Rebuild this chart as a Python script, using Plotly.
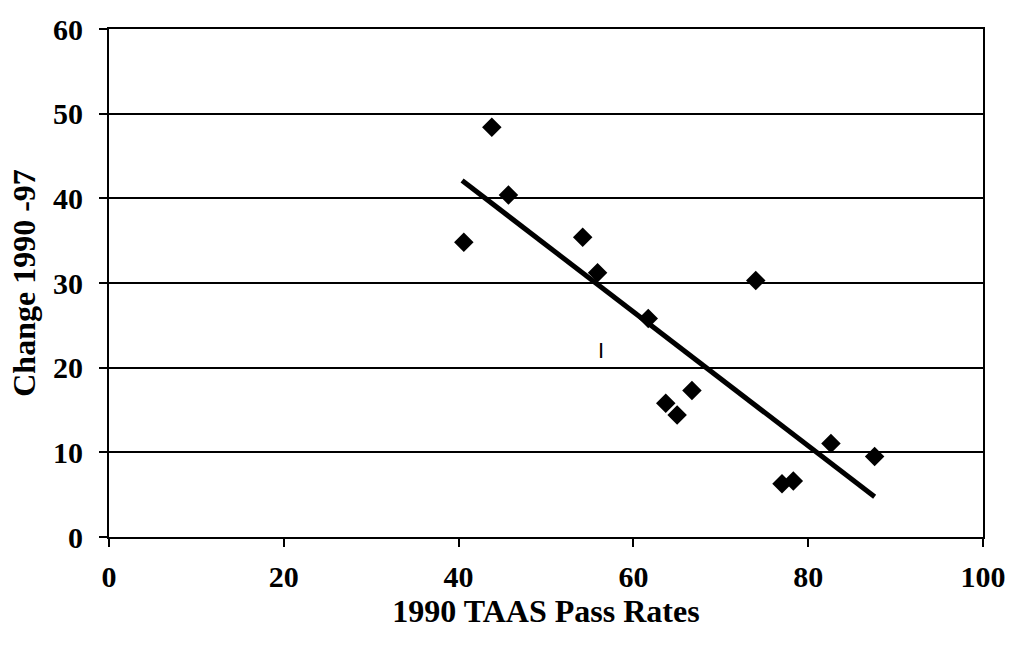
import plotly.graph_objects as go

# Data
pass_rate_1990 = [40.6, 43.8, 45.7, 54.2, 55.9, 61.7, 63.7, 65.0, 66.7, 74.0, 77.0, 78.3, 82.6, 87.6]
change_1990_97 = [34.8, 48.4, 40.4, 35.4, 31.2, 25.8, 15.8, 14.4, 17.3, 30.3, 6.3, 6.6, 11.05, 9.5]

trend_x = [40.4, 87.6]
trend_y = [42.1, 4.75]

stray_mark_x = [56.3]
stray_mark_y = [21.8]

x_ticks = [0, 20, 40, 60, 80, 100]
y_ticks = [0, 10, 20, 30, 40, 50, 60]

FONT = "Liberation Serif, Times New Roman, serif"

fig = go.Figure()

fig.add_trace(go.Scatter(
    x=trend_x, y=trend_y, mode="lines",
    line=dict(color="black", width=5),
    hoverinfo="skip", showlegend=False,
))

fig.add_trace(go.Scatter(
    x=pass_rate_1990, y=change_1990_97, mode="markers",
    marker=dict(symbol="diamond", size=15, color="black"),
    showlegend=False,
))

fig.add_trace(go.Scatter(
    x=stray_mark_x, y=stray_mark_y, mode="text", text=["I"],
    textfont=dict(family="Liberation Sans, Arial, sans-serif", size=22, color="black"),
    showlegend=False, hoverinfo="skip",
))

fig.update_layout(
    width=1018, height=648,
    margin=dict(l=109, r=31, t=28, b=111),
    paper_bgcolor="white", plot_bgcolor="white",
    font=dict(family=FONT, size=30, color="black"),
)

fig.update_xaxes(
    range=[0, 100], tickvals=x_ticks, ticktext=[str(v) for v in x_ticks],
    showgrid=False, zeroline=False,
    showline=True, linecolor="black", linewidth=2, mirror=True,
    ticks="outside", ticklen=8, tickwidth=1.5, tickcolor="black",
    tickfont=dict(family=FONT, size=30, weight="bold"),
    ticklabelstandoff=4,
    title=dict(text="1990 TAAS Pass Rates", font=dict(family=FONT, size=32, weight="bold"), standoff=8),
)

fig.update_yaxes(
    range=[0, 60], tickvals=y_ticks, ticktext=[str(v) for v in y_ticks],
    showgrid=True, gridcolor="black", gridwidth=1.5, zeroline=False,
    showline=True, linecolor="black", linewidth=2, mirror=True,
    ticks="outside", ticklen=8, tickwidth=1.5, tickcolor="black",
    tickfont=dict(family=FONT, size=30, weight="bold"),
    ticklabelstandoff=10,
    title=dict(text="Change 1990 -97", font=dict(family=FONT, size=32, weight="bold"), standoff=8),
)

fig.write_html("out.html")
